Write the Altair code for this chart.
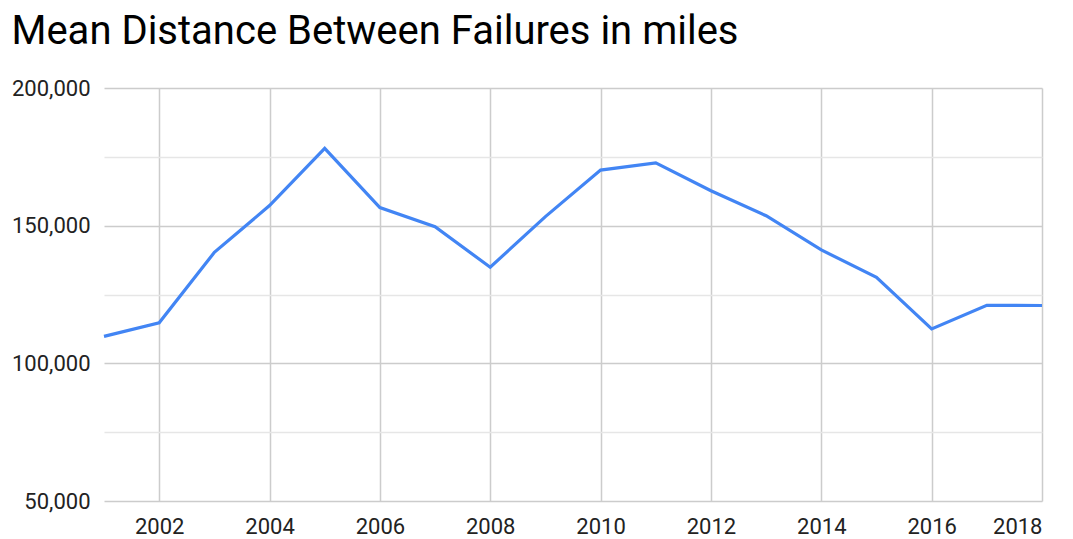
import altair as alt
import pandas as pd

years = list(range(2001, 2019))
mdbf = [109800, 114700, 140300, 157300, 178100, 156600, 149600, 134900, 153300,
        170200, 172800, 162700, 153600, 141200, 131200, 112500, 121100, 121000]
x_ticks = [2002, 2004, 2006, 2008, 2010, 2012, 2014, 2016, 2018]
y_ticks = [50000, 75000, 100000, 125000, 150000, 175000, 200000]

df = pd.DataFrame({"Year": years, "MDBF": mdbf})

chart = alt.Chart(df).mark_line(color="#4285F4", strokeWidth=3.2, strokeJoin="miter").encode(
    x=alt.X("Year:Q", scale=alt.Scale(domain=[2001, 2018], nice=False, zero=False),
            axis=alt.Axis(values=x_ticks, format="d", title=None, domain=False, ticks=False,
                          labelFontSize=22, labelColor="#222222", labelFont="Roboto",
                          labelPadding=15, labelFlush=True, gridColor="#cccccc",
                          gridWidth=1.5)),
    y=alt.Y("MDBF:Q", scale=alt.Scale(domain=[50000, 200000], nice=False, zero=False),
            axis=alt.Axis(values=y_ticks, format=",d", title=None, domain=False, ticks=False,
                          labelFontSize=22, labelColor="#222222", labelFont="Roboto",
                          labelPadding=14,
                          labelExpr="datum.value % 50000 === 0 ? datum.label : ''",
                          gridColor={"condition": {"test": "datum.value % 50000 === 0", "value": "#cccccc"},
                                     "value": "#e6e6e6"},
                          gridWidth=1.5)),
).properties(
    width=938,
    height=413,
    autosize=alt.AutoSizeParams(type="none"),
    padding={"left": 96, "top": 80, "right": 20, "bottom": 38},
    title=alt.Title("Mean Distance Between Failures in miles", anchor="start", frame="bounds",
                    font="Roboto", fontSize=40, fontWeight="normal", color="#000000", offset=25),
).configure_view(stroke=None)

chart.save("out.html", embed_options={"renderer": "svg", "actions": False})
